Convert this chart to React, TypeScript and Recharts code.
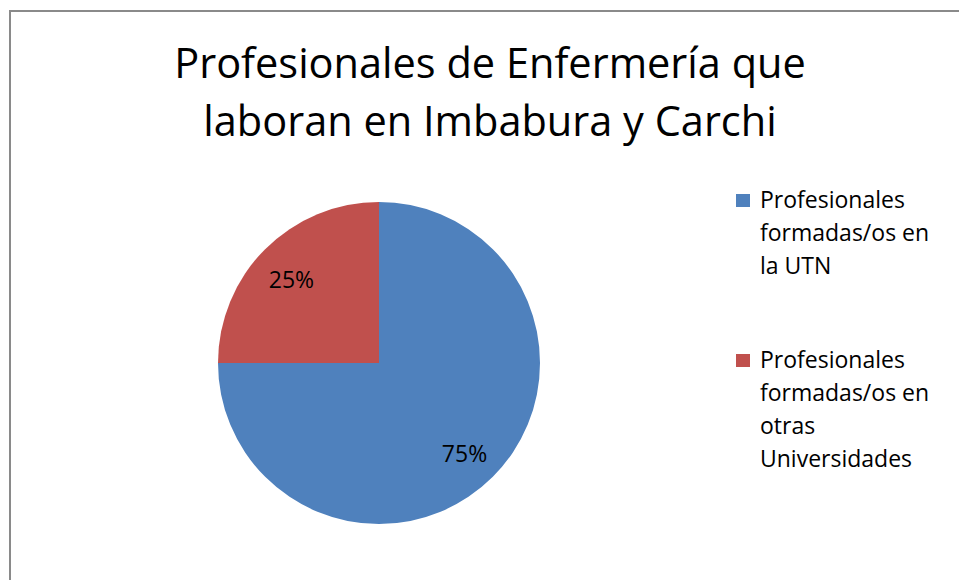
import React from 'react';
import { PieChart, Pie, Cell, Legend } from 'recharts';

const categories = [
  'Profesionales formadas/os en la UTN',
  'Profesionales formadas/os en otras Universidades',
];
const shares = [75, 25];
const colors = ['#4F81BD', '#C0504D'];
const titleLines = ['Profesionales de Enfermería que', 'laboran en Imbabura y Carchi'];

const FONT = '"Open Sans", sans-serif';

const data = categories.map((name, i) => ({ name, value: shares[i] }));

const RADIAN = Math.PI / 180;

function renderLabel(props: any) {
  const { cx, cy, midAngle, outerRadius, value } = props;
  const r = outerRadius * 0.76;
  const x = cx + r * Math.cos(-midAngle * RADIAN);
  const y = cy + r * Math.sin(-midAngle * RADIAN);
  return (
    <text x={x - 1} y={y + 3} fill="#000" textAnchor="middle" dominantBaseline="central"
      fontFamily={FONT} fontSize={23}>
      {`${value}%`}
    </text>
  );
}

function LegendContent(props: any) {
  const items = props.payload || [];
  return (
    <div style={{ fontFamily: FONT, fontSize: 23, lineHeight: '33px', color: '#000' }}>
      {items.map((entry: any, i: number) => (
        <div key={entry.value} style={{ position: 'relative', paddingLeft: 24, width: 180, marginBottom: i === 0 ? 61 : 0 }}>
          <span style={{
            position: 'absolute', left: 0, top: 11, width: 14, height: 13,
            background: entry.color,
          }} />
          {entry.value}
        </div>
      ))}
    </div>
  );
}

export default function App() {
  return (
    <div style={{ position: 'absolute', left: 0, top: 0, width: 959, height: 580, overflow: 'hidden', background: '#fff' }}>
      <div style={{
        position: 'absolute', left: 9, top: 10, width: 1000, height: 700,
        border: '2px solid #8a8a8a',
      }} />
      <svg width={959} height={160} style={{ position: 'absolute', left: 0, top: 0 }}>
        {titleLines.map((line, i) => (
          <text key={line} x={490} y={78 + i * 58} textAnchor="middle"
            fontFamily={FONT} fontSize={41.5} fill="#000">
            {line}
          </text>
        ))}
      </svg>
      <div style={{ position: 'absolute', left: 0, top: 0 }}>
        <PieChart width={959} height={580} margin={{ top: 0, right: 0, bottom: 0, left: 0 }}>
          <Pie
            data={data}
            dataKey="value"
            nameKey="name"
            cx={379}
            cy={363}
            outerRadius={161}
            startAngle={90}
            endAngle={-270}
            stroke="none"
            label={renderLabel}
            labelLine={false}
            isAnimationActive={false}
          >
            {data.map((d, i) => (
              <Cell key={d.name} fill={colors[i]} />
            ))}
          </Pie>
          <Legend
            layout="vertical"
            content={<LegendContent />}
            wrapperStyle={{ position: 'absolute', left: 736, top: 183, width: 210 }}
          />
        </PieChart>
      </div>
    </div>
  );
}
